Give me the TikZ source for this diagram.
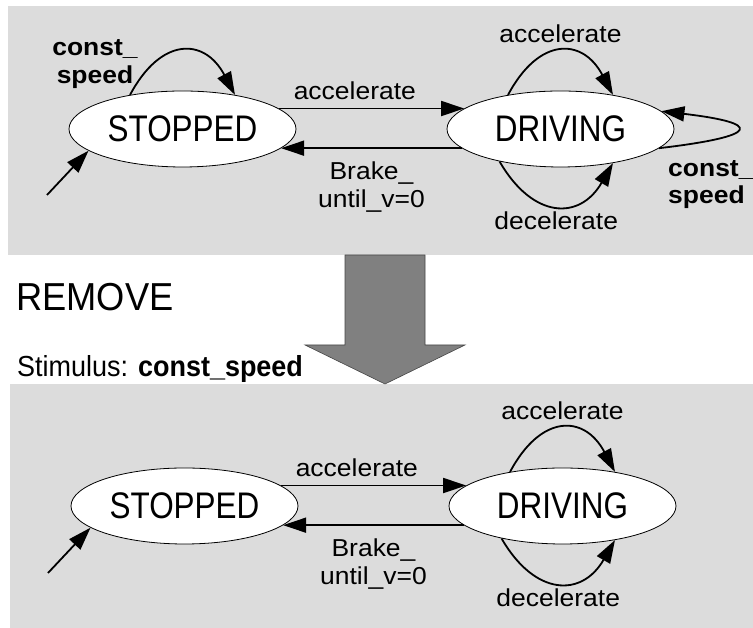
\documentclass[tikz,border=0pt]{standalone}
\usepackage{fontspec}
\setmainfont{Liberation Sans}[FakeStretch=0.93]
\newfontfamily\lblfont{Liberation Sans}[FakeStretch=1.08]
\newfontfamily\statefont{Liberation Sans}[FakeStretch=0.85]
\usepackage{tikz}
\usetikzlibrary{shapes,arrows.meta,positioning}
\definecolor{panelgray}{RGB}{220,220,220}
\definecolor{bigarrowfill}{RGB}{128,128,128}
\definecolor{bigarrowline}{RGB}{70,70,70}

\begin{document}
\begin{tikzpicture}[
    x=1pt, y=1pt,
    state/.style={draw, ellipse, fill=white, line width=0.8pt, minimum width=227pt, minimum height=76pt, inner sep=0pt, font=\statefont\fontsize{37}{40}\selectfont},
    lbl/.style={font=\lblfont\fontsize{24.5}{27.5}\selectfont, inner sep=2pt, align=center},
    boldlbl/.style={lbl, font=\lblfont\bfseries\fontsize{24.5}{27.5}\selectfont},
    trans/.style={-{Triangle[length=23pt,width=15pt]}, line width=1.8pt},
    panel/.style={fill=panelgray, draw=none}
]
    \useasboundingbox (0,0) rectangle (753,628);

    % === PANELS ===
    \fill[panel] (8,373) rectangle (753,622);
    \fill[panel] (10,0) rectangle (753,244);

    % === BIG ARROW ===
    \draw[draw=bigarrowline, fill=bigarrowfill, line width=0.6pt]
        (345,373) -- (425,373) -- (425,283) -- (465,283) -- (385,244) -- (305,283) -- (345,283) -- cycle;
    \node[anchor=base west, inner sep=0pt, font=\fontsize{39}{42}\selectfont] (remove) at (16,317) {REMOVE};
    \node[anchor=base west, inner sep=0pt, font=\fontsize{29}{32}\selectfont] (stimulus) at (17,251) {Stimulus: \textbf{const\_speed}};

    % === BEFORE ===
    \node[state] (stoppedA) at (182.5,499) {STOPPED};
    \node[state] (drivingA) at (560.5,499) {DRIVING};
    \coordinate (initA) at (47,433);

    \draw[trans] (initA) -- (stoppedA.193);
    \draw[trans] (stoppedA.12) -- node[lbl, above=6pt, pos=0.41] (accA) {accelerate} (drivingA.168);
    \draw[trans] (drivingA.-169) -- node[lbl, below=11pt] (brakeA) {Brake\_\\until\_v=0} (stoppedA.-11);

    % Self loops
    \draw[trans] (stoppedA.147) to[out=62, in=118, looseness=1.6] (stoppedA.33);
    \node[boldlbl] (constL) at (95,564) {const\_\\speed};
    \draw[trans] (drivingA.147) to[out=62, in=118, looseness=1.6] node[lbl, above=6pt] (accloopA) {accelerate} (drivingA.33);
    \draw[trans] (drivingA.208) to[out=-60, in=-120, looseness=1.5] node[lbl, below=3pt] (decloopA) {decelerate} (drivingA.-33);
    \draw[trans] (drivingA.-11) .. controls +(102,12) and +(102,-12) .. (drivingA.10);
    \node[boldlbl, align=left, anchor=north west] (constR) at (666,470) {const\_\\speed};

    % === AFTER ===
    \node[state] (stoppedB) at (184.5,122) {STOPPED};
    \node[state] (drivingB) at (562.5,122) {DRIVING};
    \coordinate (initB) at (48,55);

    \draw[trans] (initB) -- (stoppedB.193);
    \draw[trans] (stoppedB.12) -- node[lbl, above=6pt, pos=0.41] (accB) {accelerate} (drivingB.168);
    \draw[trans] (drivingB.-169) -- node[lbl, below=11pt] (brakeB) {Brake\_\\until\_v=0} (stoppedB.-11);

    % Self loops
    \draw[trans] (drivingB.147) to[out=62, in=118, looseness=1.6] node[lbl, above=6pt] (accloopB) {accelerate} (drivingB.33);
    \draw[trans] (drivingB.208) to[out=-60, in=-120, looseness=1.5] node[lbl, below=3pt] (decloopB) {decelerate} (drivingB.-33);

\end{tikzpicture}
\end{document}
